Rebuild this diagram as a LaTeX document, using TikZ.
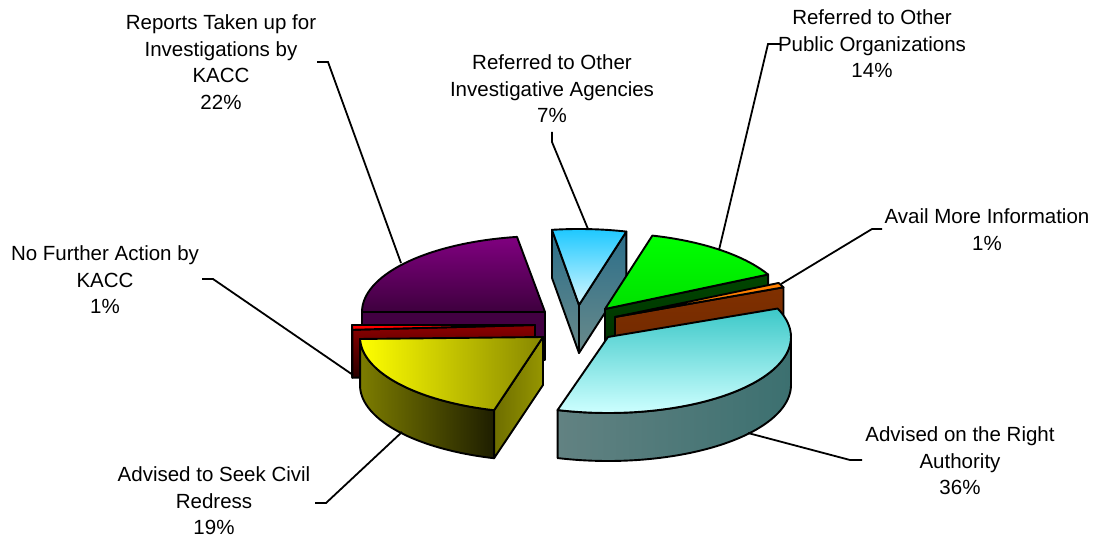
\documentclass[tikz,border=0pt]{standalone}
\usepackage{fontspec}
\setmainfont{Liberation Sans}
\definecolor{purpA}{RGB}{128,0,128}
\definecolor{purpB}{RGB}{62,0,62}
\definecolor{purpF}{RGB}{66,0,66}
\definecolor{redA}{RGB}{255,0,0}
\definecolor{redF}{RGB}{140,0,0}
\definecolor{redG}{RGB}{40,0,0}
\definecolor{yelA}{RGB}{255,255,0}
\definecolor{yelB}{RGB}{135,135,0}
\definecolor{yelS}{RGB}{125,125,0}
\definecolor{yelD}{RGB}{30,30,0}
\definecolor{yelR}{RGB}{150,150,0}
\definecolor{yelR2}{RGB}{110,110,0}
\definecolor{cyaA}{RGB}{60,200,200}
\definecolor{cyaB}{RGB}{205,255,255}
\definecolor{cyaS}{RGB}{98,130,130}
\definecolor{cyaS2}{RGB}{60,112,112}
\definecolor{bluA}{RGB}{30,200,255}
\definecolor{bluB}{RGB}{215,248,255}
\definecolor{bluS}{RGB}{42,110,138}
\definecolor{bluS2}{RGB}{106,138,138}
\definecolor{grnA}{RGB}{0,255,0}
\definecolor{grnM}{RGB}{0,105,0}
\definecolor{grnB}{RGB}{0,225,0}
\definecolor{grnF}{RGB}{0,70,0}
\definecolor{grnF2}{RGB}{0,45,0}
\definecolor{brnA}{RGB}{255,128,0}
\definecolor{brnF}{RGB}{128,48,0}
\definecolor{brnF2}{RGB}{110,40,0}
\tikzset{
  face/.style={draw=black, line width=1.9pt, line join=round},
  lab/.style={align=center, inner sep=0pt, font=\fontsize{20.5}{26.5}\selectfont},
  leader/.style={draw=black, line width=1.8pt},
  pl/.style={samples=60}
}
\begin{document}
\begin{tikzpicture}[x=1pt,y=-1pt]
\useasboundingbox (0,0) rectangle (1095,537);
\fill[white] (0,0) rectangle (1095,537);
% ---- blue slice (7%)
\path[face, top color=bluS, bottom color=bluS2] (579,305) -- ({579+183*cos(98.5)},{305-76*sin(98.5)}) -- ++(0,48) -- (579,353) -- cycle;
\path[face, top color=bluS, bottom color=bluS2] (579,305) -- ({579+183*cos(75)},{305-76*sin(75)}) -- ++(0,48) -- (579,353) -- cycle;
\path[face, top color=bluA, bottom color=bluB] (579,305) -- plot[pl, domain=75:98.5] ({579+183*cos(\x)},{305-76*sin(\x)}) -- cycle;
% ---- green slice (14%)
\path[face, top color=grnF, bottom color=grnF2] (605,309) -- ({605+183*cos(27)},{309-76*sin(27)}) -- ++(0,48) -- (605,357) -- cycle;
\path[face, top color=grnA, middle color=grnM, bottom color=grnB] (605,309) -- plot[pl, domain=27:75] ({605+183*cos(\x)},{309-76*sin(\x)}) -- cycle;
% ---- brown slice (1%)
\path[face, top color=brnF, bottom color=brnF2] (615,317) -- ({615+183*cos(23)},{317-76*sin(23)}) -- ++(0,48) -- (615,365) -- cycle;
\path[face, fill=brnA] (615,317) -- plot[pl, domain=23:26.6] ({615+183*cos(\x)},{317-76*sin(\x)}) -- cycle;
% ---- purple slice (22%)
\path[face, fill=purpF] (545,312) -- (362,312) -- (362,360) -- (545,360) -- cycle;
\path[face, top color=purpA, bottom color=purpB] (545,312) -- plot[pl, domain=98.8:180] ({545+183*cos(\x)},{312-76*sin(\x)}) -- cycle;
% ---- red slice (1%)
\path[face, top color=redF, bottom color=redG] (352,325) -- plot[pl, domain=180:183.6] ({535+183*cos(\x)},{325-76*sin(\x)}) -- ++(0,48) -- plot[pl, domain=183.6:180] ({535+183*cos(\x)},{373-76*sin(\x)}) -- cycle;
\path[face, top color=redF, bottom color=redG] (535,325) -- ({535+183*cos(183.6)},{325-76*sin(183.6)}) -- ++(0,48) -- (535,373) -- cycle;
\path[face, fill=redA] (535,325) -- plot[pl, domain=180:183.6] ({535+183*cos(\x)},{325-76*sin(\x)}) -- cycle;
% ---- yellow slice (19%)
\path[face, left color=yelS, right color=yelD] ({543+183*cos(181.5)},{337-76*sin(181.5)}) -- plot[pl, domain=181.5:254.5] ({543+183*cos(\x)},{337-76*sin(\x)}) -- ++(0,48) -- plot[pl, domain=254.5:181.5] ({543+183*cos(\x)},{385-76*sin(\x)}) -- cycle;
\path[face, left color=yelR2, right color=yelR] (543,337) -- ({543+183*cos(254.5)},{337-76*sin(254.5)}) -- ++(0,48) -- (543,385) -- cycle;
\path[face, left color=yelA, right color=yelB] (543,337) -- plot[pl, domain=181.5:254.5] ({543+183*cos(\x)},{337-76*sin(\x)}) -- cycle;
% ---- cyan slice (36%)
\path[face, left color=cyaS, right color=cyaS2] ({608+183*cos(254)},{337-76*sin(254)}) -- plot[pl, domain=254:360] ({608+183*cos(\x)},{337-76*sin(\x)}) -- ++(0,48) -- plot[pl, domain=360:254] ({608+183*cos(\x)},{385-76*sin(\x)}) -- cycle;
\path[face, top color=cyaA, bottom color=cyaB] (608,337) -- plot[pl, domain=254:382] ({608+183*cos(\x)},{337-76*sin(\x)}) -- cycle;
% ---- labels
\node[lab] (lpur) at (221,62) {Reports Taken up for\\Investigations by\\KACC\\22\%};
\node[lab] (lblu) at (552,89) {Referred to Other\\Investigative Agencies\\7\%};
\node[lab] (lgrn) at (872,44) {Referred to Other\\Public Organizations\\14\%};
\node[lab] (lbrn) at (987,229.5) {Avail More Information\\1\%};
\node[lab] (lred) at (105,280) {No Further Action by\\KACC\\1\%};
\node[lab] (lcya) at (960,461) {Advised on the Right\\Authority\\36\%};
\node[lab] (lyel) at (214,501) {Advised to Seek Civil\\Redress\\19\%};
% ---- leader lines
\coordinate (pa) at (317,62); \coordinate (pb) at (328,62); \coordinate (pc) at (401,263);
\coordinate (ba) at (552,132); \coordinate (bb) at (552,142); \coordinate (bc) at (588,229);
\coordinate (ga) at (780,44); \coordinate (gb) at (768,44); \coordinate (gc) at (719,250);
\coordinate (oa) at (882,229); \coordinate (ob) at (872,229); \coordinate (oc) at (781,284);
\coordinate (ra) at (202,279); \coordinate (rb) at (213,279); \coordinate (rc) at (353,375);
\coordinate (ca) at (862,460); \coordinate (cb) at (850,460); \coordinate (cc) at (748,433);
\coordinate (ya) at (315,503); \coordinate (yb) at (326,503); \coordinate (yc) at (402,432);
\draw[leader] (pa) -- (pb) -- (pc);
\draw[leader] (ba) -- (bb) -- (bc);
\draw[leader] (ga) -- (gb) -- (gc);
\draw[leader] (oa) -- (ob) -- (oc);
\draw[leader] (ra) -- (rb) -- (rc);
\draw[leader] (ca) -- (cb) -- (cc);
\draw[leader] (ya) -- (yb) -- (yc);
\end{tikzpicture}
\end{document}
